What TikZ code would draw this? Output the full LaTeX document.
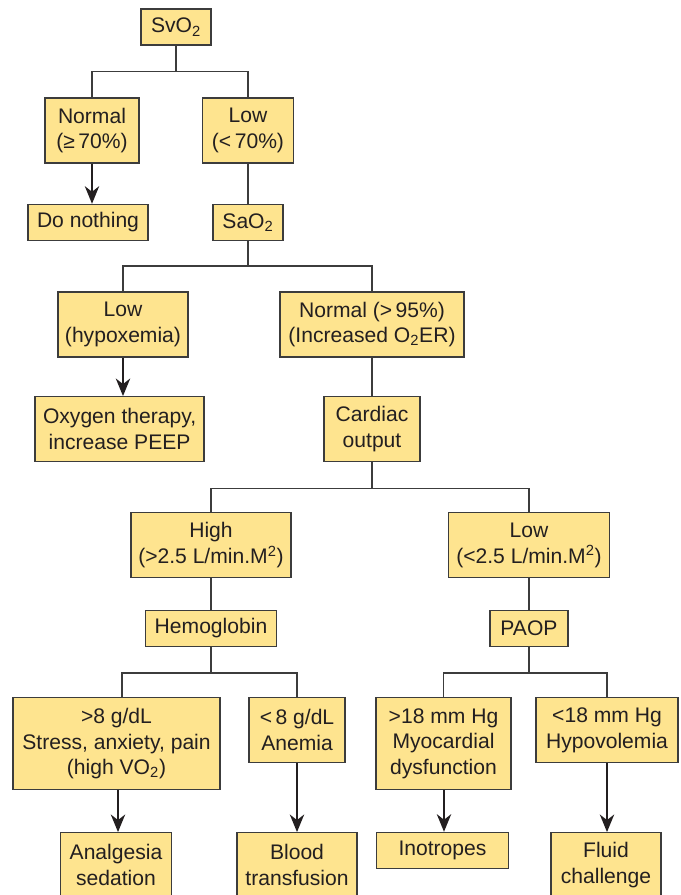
\documentclass[tikz,border=0pt]{standalone}
\usepackage{fontspec}
\setmainfont{Liberation Sans}
\usetikzlibrary{arrows.meta}
\definecolor{boxfill}{HTML}{FEE48F}
\definecolor{linegray}{HTML}{3C3C3C}
\definecolor{textdark}{HTML}{231F20}

\begin{document}
\begin{tikzpicture}[
		box/.style={rectangle, draw=linegray, line width=0.9pt, fill=boxfill, text=textdark, minimum height=0.9cm, align=center, inner sep=0pt, font=\fontsize{15}{18.2}\selectfont},
		twoline/.style={box, minimum height=1.625cm},
		threeline/.style={box, minimum height=2.3cm},
		link/.style={draw=linegray, line width=0.9pt},
		arr/.style={draw=textdark, line width=1.1pt, -{Stealth[length=0.44cm, width=0.36cm, inset=0.14cm]}},
	]

	\useasboundingbox (0, 0) rectangle (17, -22.375);

	% SvO2 level
	\node[box, minimum width=1.75cm]      (svo2)    at (4.4, -0.675)     {SvO\textsubscript{2}};
	\node[twoline, minimum width=2.35cm]  (normal)  at (2.3, -3.26)      {Normal\\(≥\,70\%)};
	\node[twoline, minimum width=2.275cm] (low)     at (6.2, -3.26)      {Low\\(<\,70\%)};
	\node[box, minimum width=3.0cm]       (nothing) at (2.2, -5.56)      {Do nothing};
	\node[box, minimum width=1.75cm]      (sao2)    at (6.2, -5.56)      {SaO\textsubscript{2}};

	% SaO2 level
	\node[twoline, minimum width=3.25cm]  (hypox)   at (3.075, -8.11)    {Low\\(hypoxemia)};
	\node[twoline, minimum width=4.6cm]   (normsat) at (9.3, -8.11)      {Normal (>\,95\%)\\(Increased O\textsubscript{2}ER)};
	\node[twoline, minimum width=4.225cm] (oxygen)  at (2.99, -10.73)    {Oxygen therapy,\\increase PEEP};
	\node[twoline, minimum width=2.4cm]   (cardiac) at (9.3, -10.73)     {Cardiac\\output};

	% Cardiac output level
	\node[twoline, minimum width=4.0cm]   (high)    at (5.275, -13.63)   {High\\(>2.5 L/min.M\textsuperscript{2})};
	\node[twoline, minimum width=4.025cm] (lowco)   at (13.225, -13.63)  {Low\\(<2.5 L/min.M\textsuperscript{2})};
	\node[box, minimum width=3.275cm]     (hemo)    at (5.275, -15.71)   {Hemoglobin};
	\node[box, minimum width=1.95cm]      (paop)    at (13.225, -15.71)  {PAOP};

	% Causes
	\node[threeline, minimum width=5.175cm] (stress)  at (2.9125, -18.59)  {>8 g/dL\\Stress, anxiety, pain\\(high VO\textsubscript{2})};
	\node[twoline, minimum width=2.4cm]     (anemia)  at (7.425, -18.255)  {<\,8 g/dL\\Anemia};
	\node[threeline, minimum width=3.375cm] (myo)     at (11.0875, -18.59) {>18 mm Hg\\Myocardial\\dysfunction};
	\node[twoline, minimum width=3.55cm]    (hypovol) at (15.175, -18.255) {<18 mm Hg\\Hypovolemia};

	% Treatments
	\node[twoline, minimum width=2.775cm] (analg)   at (2.9, -21.63)   {Analgesia\\sedation};
	\node[twoline, minimum width=3.0cm]   (blood)   at (7.425, -21.63) {Blood\\transfusion};
	\node[box, minimum width=3.3cm]       (ino)     at (11.0625, -21.26) {Inotropes};
	\node[twoline, minimum width=2.75cm]  (fluid)   at (15.15, -21.63) {Fluid\\challenge};

	% SvO2 split
	\draw[link] (svo2.south) -- ++(0, -0.65) -| (normal.north);
	\draw[link] (svo2.south) -- ++(0, -0.65) -| (low.north);
	\draw[arr]  (normal.south) -- (normal.south |- nothing.north);
	\draw[link] (low) -- (sao2);

	% SaO2 split
	\draw[link] (sao2.south) -- ++(0, -0.625) -| (hypox.north);
	\draw[link] (sao2.south) -- ++(0, -0.625) -| (normsat.north);
	\draw[arr]  (hypox.south) -- (hypox.south |- oxygen.north);
	\draw[link] (normsat) -- (cardiac);

	% Cardiac output split
	\draw[link] (cardiac.south) -- ++(0, -0.65) -| (high.north);
	\draw[link] (cardiac.south) -- ++(0, -0.65) -| (lowco.north);
	\draw[link] (high) -- (hemo);
	\draw[link] (lowco) -- (paop);

	% Hemoglobin and PAOP splits
	\draw[link] (hemo.south) -- ++(0, -0.65) -| ([xshift=0.14cm]stress.north);
	\draw[link] (hemo.south) -- ++(0, -0.65) -| (anemia.north);
	\draw[link] (paop.south) -- ++(0, -0.65) -| (myo.north);
	\draw[link] (paop.south) -- ++(0, -0.65) -| (hypovol.north);

	% Treatments
	\draw[arr] ([xshift=0.0375cm]stress.south) -- ([xshift=0.0375cm]stress.south |- analg.north);
	\draw[arr] (anemia.south) -- (anemia.south |- blood.north);
	\draw[arr] ([xshift=0.0125cm]myo.south) -- ([xshift=0.0125cm]myo.south |- ino.north);
	\draw[arr] (hypovol.south) -- (hypovol.south |- fluid.north);

\end{tikzpicture}
\end{document}
